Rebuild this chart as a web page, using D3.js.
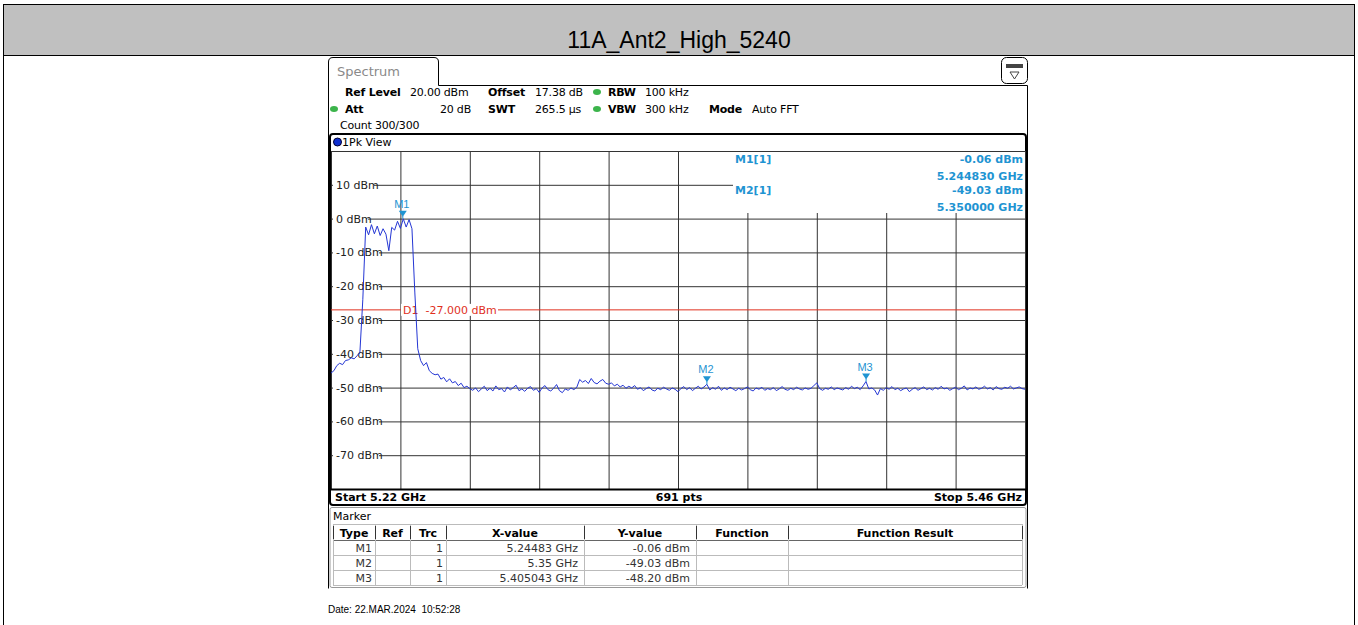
<!DOCTYPE html>
<html>
<head>
<meta charset="utf-8">
<script src="https://cdn.jsdelivr.net/npm/d3@7"></script>
<style>
  body { margin: 0; background: #fff; }
  svg text { font-family: "DejaVu Sans", Verdana, sans-serif; white-space: pre; }
</style>
</head>
<body>
<div id="chart"></div>
<script>
// ---- data ----
const title = "11A_Ant2_High_5240";
const startGHz = 5.22, stopGHz = 5.46, stepGHz = 0.001;
const yTicks = [10, 0, -10, -20, -30, -40, -50, -60, -70];
const displayLine = -27;

// trace level (dBm), one value per 1 MHz from 5.220 GHz
const traceLevel = [
  -45.7, -45.0, -43.5, -42.8, -43.2, -42.0, -41.8, -41.2, -41.5, -40.6,
  -39.5, -24.0, -2.5, -4.8, -1.8, -4.5, -2.2, -5.0, -3.0, -4.6,
  -9.5, -2.6, -3.4, -0.8, -2.9, -0.06, -2.5, -0.3, -3.0, -22.0,
  -38.5, -42.0, -43.5, -42.6, -45.0, -45.8, -46.2, -46.0, -47.5, -47.0,
  -48.3, -47.4, -48.6, -48.2, -49.4, -48.7, -50.0, -49.6, -50.3,
  -50.8, -50.1, -51.2, -50.4, -49.6, -50.9, -50.2, -51.0, -49.5, -50.6,
  -50.3, -51.3, -49.8, -50.7, -50.0, -49.3, -50.9, -50.4, -51.1, -50.2,
  -49.7, -50.8, -50.3, -51.4, -50.1, -49.4, -50.6, -51.0, -50.2, -49.1,
  -50.9, -51.5, -50.4, -50.8, -50.1, -50.6, -49.9,
  -47.6, -48.4, -47.9, -48.8, -47.3, -48.5, -48.9, -48.1, -47.6, -48.7, -49.0,
  -48.6, -49.5, -49.0, -49.8, -49.3, -50.2, -49.6, -50.1, -49.4, -50.5,
  -50.0, -50.9, -50.3, -49.8, -50.7, -51.0, -50.2, -50.6, -49.9, -50.4,
  -50.8, -50.1, -50.5, -51.2, -50.3, -49.7, -50.6, -50.0, -50.9, -50.2,
  -49.6, -50.4, -49.8, -49.03, -50.7, -50.0, -50.5, -49.6, -50.8, -50.1,
  -50.6, -49.9, -50.4, -50.9, -50.2, -50.7, -50.3, -49.8, -50.6, -51.0,
  -50.1, -50.5, -49.9, -50.8, -50.3, -50.6, -50.0, -50.9, -50.4, -49.7,
  -50.5, -50.8, -50.2, -50.6, -49.9, -50.4, -50.7, -50.1, -50.5, -50.2,
  -49.4, -48.6, -50.3, -50.8, -50.2, -50.5, -49.8, -50.6, -50.1, -50.4,
  -50.7, -50.0, -50.5, -49.6, -50.3, -49.9, -50.6, -49.5, -48.20, -50.4,
  -50.1, -50.7, -52.2, -50.3, -50.8, -50.0, -50.5, -49.7, -50.6, -50.2,
  -50.9, -50.4, -50.1, -51.2, -50.5, -50.0, -50.8, -50.3, -49.8, -50.6,
  -50.2, -50.7, -50.0, -50.5, -49.6, -50.4, -50.1, -50.8, -50.3, -49.9,
  -50.6, -50.2, -49.5, -50.7, -50.1, -50.4, -49.8, -50.5, -50.2, -49.6,
  -50.4, -50.0, -50.7, -49.7, -50.3, -50.5, -49.9, -50.2, -49.6, -50.4,
  -50.1, -49.8, -50.3, -50.5
];

const markerNames = ["M1", "M2", "M3"];
const markerFreq = [5.24483, 5.35, 5.405043];
const markerLevel = [-0.06, -49.03, -48.20];
const markerXText = ["5.24483 GHz", "5.35 GHz", "5.405043 GHz"];
const markerYText = ["-0.06 dBm", "-49.03 dBm", "-48.20 dBm"];

const tableCols = ["Type", "Ref", "Trc", "X-value", "Y-value", "Function", "Function Result"];

const W = 1358, H = 625;
const markerBlue = "#1f94d2";

const svg = d3.select('#chart').append('svg')
  .attr('width', W).attr('height', H);

// ---- page header ----
svg.append('rect').attr('x', 3.5).attr('y', 4.5).attr('width', 1351).attr('height', 51)
  .attr('fill', '#c0c0c0').attr('stroke', '#000');
svg.append('line').attr('x1', 3.5).attr('x2', 3.5).attr('y1', 55).attr('y2', H).attr('stroke', '#000');
svg.append('line').attr('x1', 1354.5).attr('x2', 1354.5).attr('y1', 55).attr('y2', H).attr('stroke', '#000');
svg.append('text').attr('x', 679).attr('y', 48).attr('text-anchor', 'middle')
  .style('font-family', '"Liberation Sans", Arial, sans-serif').style('font-size', '23px')
  .text(title);

// ---- instrument window ----
svg.append('path')
  .attr('d', 'M328.5,588.5 V62 Q328.5,57.5 333,57.5 H434 Q438.5,57.5 438.5,62 V85.5 H1027.5 V588.5')
  .attr('fill', 'none').attr('stroke', '#000');
svg.append('text').attr('x', 337).attr('y', 76).attr('fill', '#8a8a8a').style('font-size', '13px').text('Spectrum');

// settings icon
svg.append('rect').attr('x', 1001.5).attr('y', 57.5).attr('width', 26).attr('height', 26).attr('rx', 5)
  .attr('fill', '#fff').attr('stroke', '#000');
svg.append('rect').attr('x', 1006).attr('y', 64).attr('width', 17).attr('height', 4).attr('fill', '#444');
svg.append('path').attr('d', 'M1010,72 L1019,72 L1014.5,79 Z').attr('fill', 'none').attr('stroke', '#444');

const hdr = svg.append('g').style('font-size', '11px');
const hdrItems = [
  {x: 345, y: 96, t: 'Ref Level', b: true}, {x: 410, y: 96, t: '20.00 dBm'},
  {x: 488, y: 96, t: 'Offset', b: true}, {x: 535, y: 96, t: '17.38 dB'},
  {x: 608, y: 96, t: 'RBW', b: true}, {x: 645, y: 96, t: '100 kHz'},
  {x: 345, y: 113, t: 'Att', b: true}, {x: 471, y: 113, t: '20 dB', a: 'end'},
  {x: 488, y: 113, t: 'SWT', b: true}, {x: 535, y: 113, t: '265.5 µs'},
  {x: 608, y: 113, t: 'VBW', b: true}, {x: 645, y: 113, t: '300 kHz'},
  {x: 709, y: 113, t: 'Mode', b: true}, {x: 752, y: 113, t: 'Auto FFT'},
  {x: 340, y: 129, t: 'Count 300/300'}
];
hdr.selectAll('text').data(hdrItems).enter().append('text')
  .attr('x', d => d.x).attr('y', d => d.y)
  .attr('text-anchor', d => d.a || 'start')
  .attr('font-weight', d => d.b ? 'bold' : 'normal')
  .style('letter-spacing', '-0.2px')
  .text(d => d.t);
[[597, 92], [597, 109], [334, 109]].forEach(p => {
  svg.append('ellipse').attr('cx', p[0]).attr('cy', p[1]).attr('rx', 4).attr('ry', 3).attr('fill', '#3cb44b');
});

// ---- plot frame ----
svg.append('rect').attr('x', 330).attr('y', 134).attr('width', 696).attr('height', 371).attr('rx', 3)
  .attr('fill', '#fff').attr('stroke', '#000').attr('stroke-width', 2);
svg.append('circle').attr('cx', 337.5).attr('cy', 142).attr('r', 4).attr('fill', '#1030d0').attr('stroke', '#003');
svg.append('text').attr('x', 342).attr('y', 146).style('font-size', '11px').text('1Pk View');

const x = d3.scaleLinear().domain([startGHz, stopGHz]).range([331, 1025]);
const y = d3.scaleLinear().domain([-80, 20]).range([489, 151]);

const plot = svg.append('g');

// grid
const xGridVals = d3.range(11).map(i => startGHz + i * (stopGHz - startGHz) / 10);
plot.append('g').attr('transform', 'translate(0,489)')
  .call(d3.axisBottom(x).tickValues(xGridVals).tickSize(-(489 - 151)).tickFormat(''))
  .call(g => g.select('.domain').remove())
  .call(g => g.selectAll('line').attr('stroke', '#333'));
plot.append('g').attr('transform', 'translate(331,0)')
  .call(d3.axisLeft(y).tickValues([20].concat(yTicks)).tickSize(-(1025 - 331)).tickFormat(''))
  .call(g => g.select('.domain').remove())
  .call(g => g.selectAll('line').attr('stroke', '#333'));
plot.append('line').attr('x1', 330).attr('x2', 1026).attr('y1', 489.5).attr('y2', 489.5)
  .attr('stroke', '#000').attr('stroke-width', 2);

// marker readout box hides grid top-right
plot.append('rect').attr('x', 733).attr('y', 152).attr('width', 292).attr('height', 61).attr('fill', '#fff');

// y labels with white background
const yLab = plot.selectAll('.ylab').data(yTicks).enter().append('g').attr('class', 'ylab');
yLab.append('rect').attr('x', 333).attr('y', d => y(d) - 7).attr('width', d => d < 0 ? 46 : (d === 0 ? 35 : 41))
  .attr('height', 14).attr('fill', '#fff');
yLab.append('text').attr('x', 336).attr('y', d => y(d) + 4).style('font-size', '11px').attr('fill', '#222')
  .text(d => d + ' dBm');

// display line D1
plot.append('line').attr('x1', 331).attr('x2', 1025).attr('y1', y(displayLine)).attr('y2', y(displayLine))
  .attr('stroke', '#e0301e').attr('stroke-width', 1);
plot.append('rect').attr('x', 401).attr('y', y(displayLine) - 6).attr('width', 97).attr('height', 12).attr('fill', '#fff');
plot.append('text').attr('x', 403).attr('y', y(displayLine) + 4).attr('fill', '#e0301e').style('font-size', '11px')
  .text('D1  ' + displayLine.toFixed(3) + ' dBm');

// trace
const traceData = traceLevel.map((v, i) => ({f: startGHz + i * stepGHz, v: v}));
plot.append('path').datum(traceData)
  .attr('d', d3.line().x(d => x(d.f)).y(d => y(d.v)))
  .attr('fill', 'none').attr('stroke', '#2436d4').attr('stroke-width', 1);

// markers
const mk = plot.selectAll('.mk').data(markerNames).enter().append('g');
mk.append('path')
  .attr('d', (d, i) => {
    const mx = x(markerFreq[i]), my = y(markerLevel[i]);
    return `M${mx - 4},${my - 8} L${mx + 4},${my - 8} L${mx},${my - 2} Z`;
  }).attr('fill', markerBlue);
mk.append('line')
  .attr('x1', (d, i) => x(markerFreq[i])).attr('x2', (d, i) => x(markerFreq[i]))
  .attr('y1', (d, i) => y(markerLevel[i]) - 3).attr('y2', (d, i) => y(markerLevel[i]))
  .attr('stroke', markerBlue);
mk.append('text').attr('x', (d, i) => x(markerFreq[i]) - 1).attr('y', (d, i) => y(markerLevel[i]) - 11)
  .attr('text-anchor', 'middle').attr('fill', markerBlue)
  .style('font-family', '"Liberation Sans", Arial, sans-serif').style('font-size', '11px').text(d => d);

// marker readout
const ro = plot.append('g').attr('fill', markerBlue).attr('font-weight', 'bold').style('font-size', '11px');
ro.append('text').attr('x', 735).attr('y', 163).text('M1[1]');
ro.append('text').attr('x', 735).attr('y', 194).text('M2[1]');
ro.append('text').attr('x', 1023).attr('y', 163).attr('text-anchor', 'end').text(markerYText[0]);
ro.append('text').attr('x', 1023).attr('y', 180).attr('text-anchor', 'end').text(markerFreq[0].toFixed(6) + ' GHz');
ro.append('text').attr('x', 1023).attr('y', 194).attr('text-anchor', 'end').text(markerYText[1]);
ro.append('text').attr('x', 1023).attr('y', 211).attr('text-anchor', 'end').text(markerFreq[1].toFixed(6) + ' GHz');

// footer of plot
const ft = plot.append('g').attr('font-weight', 'bold').style('font-size', '11px');
ft.append('text').attr('x', 335).attr('y', 501).text('Start ' + startGHz + ' GHz');
ft.append('text').attr('x', 679).attr('y', 501).attr('text-anchor', 'middle').text('691 pts');
ft.append('text').attr('x', 1022).attr('y', 501).attr('text-anchor', 'end').text('Stop ' + stopGHz + ' GHz');

// ---- marker table ----
svg.append('rect').attr('x', 330).attr('y', 507.5).attr('width', 696).attr('height', 80).attr('rx', 2)
  .attr('fill', '#fff').attr('stroke', '#999');
svg.append('text').attr('x', 333).attr('y', 520).style('font-size', '11px').text('Marker');
const colEdges = [333, 375, 410, 446, 584, 696, 788, 1022];
const rowEdges = [524, 540, 555, 570, 585];
const tbl = svg.append('g').style('font-size', '11px');
rowEdges.forEach((ry, i) => {
  tbl.append('line').attr('x1', 333).attr('x2', 1022).attr('y1', ry + 0.5).attr('y2', ry + 0.5)
    .attr('stroke', i === 1 ? '#666' : '#bbb');
});
colEdges.forEach((cx, i) => {
  tbl.append('line').attr('x1', cx + 0.5).attr('x2', cx + 0.5).attr('y1', 524).attr('y2', 585)
    .attr('stroke', '#bbb');
  tbl.append('line').attr('x1', cx + 0.5).attr('x2', cx + 0.5).attr('y1', 526).attr('y2', 539)
    .attr('stroke', '#333');
});
tableCols.forEach((c, i) => {
  tbl.append('text').attr('x', (colEdges[i] + colEdges[i + 1]) / 2).attr('y', 537)
    .attr('text-anchor', 'middle').attr('font-weight', 'bold').text(c);
});
markerNames.forEach((m, i) => {
  const ty = rowEdges[i + 1] + 12;
  tbl.append('text').attr('x', 372).attr('y', ty).attr('text-anchor', 'end').attr('fill', '#333').text(m);
  tbl.append('text').attr('x', 443).attr('y', ty).attr('text-anchor', 'end').attr('fill', '#333').text('1');
  tbl.append('text').attr('x', 578).attr('y', ty).attr('text-anchor', 'end').attr('fill', '#333').text(markerXText[i]);
  tbl.append('text').attr('x', 690).attr('y', ty).attr('text-anchor', 'end').attr('fill', '#333').text(markerYText[i]);
});

// date line
svg.append('text').attr('x', 328).attr('y', 613)
  .style('font-family', '"Liberation Sans", Arial, sans-serif').style('font-size', '10px')
  .text('Date: 22.MAR.2024  10:52:28');
</script>
</body>
</html>
